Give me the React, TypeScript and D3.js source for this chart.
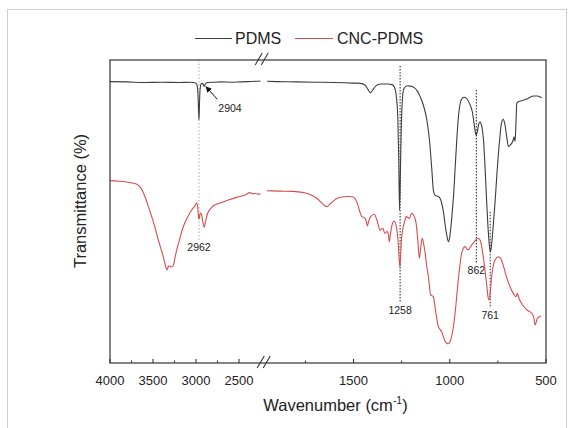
import React from "react";
import * as d3 from "d3";

// ---------- data ----------
const pdmsWn = [4000, 3800, 3600, 3400, 3200, 3070, 3010, 2990, 2978, 2970, 2965, 2960, 2953, 2940, 2925, 2912, 2904, 2895, 2880, 2800, 2700, 2600, 2488, 2400, 2300, 2250,
  1950, 1900, 1800, 1700, 1600, 1500, 1465, 1440, 1425, 1412, 1400, 1385, 1360, 1320, 1300, 1288, 1278, 1270, 1265, 1261, 1257, 1252, 1246, 1238, 1220, 1205, 1185, 1170, 1154, 1135, 1119, 1105, 1093, 1085, 1075, 1060, 1050, 1041, 1032, 1024, 1015, 1007, 1000, 993, 985, 980, 972, 963, 955, 946, 935, 925, 910, 894, 882, 873, 866, 862, 857, 850, 843, 836, 830, 825, 818, 808, 800, 793, 788, 782, 775, 765, 755, 747, 740, 733, 722, 712, 704, 695, 685, 678, 670, 666, 661, 656, 652, 640, 626, 600, 566, 545, 522];
const pdmsT = [93.8, 93.7, 93.5, 93.6, 93.5, 93.6, 93.4, 92.8, 90, 84, 81, 86, 91, 93, 93.2, 92.6, 92.2, 92.8, 93.4, 93.6, 93.7, 93.6, 93.7, 93.8, 93.9, 94,
  93.9, 93.8, 93.7, 93.6, 93.5, 93.3, 93.2, 92.6, 91.2, 90.1, 91, 92.3, 93, 93, 92.8, 92, 89, 82, 68, 51, 62, 78, 88, 91.5, 92.4, 92.3, 91.8, 90.8, 88.8, 85.5, 81, 74, 64.3, 57.5, 55.8, 55.5, 54.8, 53, 50, 46, 42.5, 40.4, 42, 46, 52, 56, 65, 75, 82, 86.5, 88.3, 88.6, 88, 86, 83.5, 79.5, 76.5, 76, 77, 79.5, 80.4, 79.5, 77.5, 74.5, 67, 53.5, 44, 38.5, 37.1, 40, 45, 53.3, 63, 70, 75, 79.3, 81.2, 79, 75.4, 72.1, 72.8, 73.2, 74.5, 75.4, 73.8, 80, 86.6, 87.2, 87.4, 88, 89, 89, 88.4];

const cncWn = [4000, 3900, 3826, 3740, 3671, 3630, 3593, 3555, 3515, 3475, 3438, 3405, 3380, 3355, 3337, 3320, 3302, 3285, 3264, 3245, 3224, 3185, 3148, 3100, 3050, 3015, 2992, 2980, 2970, 2963, 2955, 2945, 2935, 2920, 2903, 2890, 2870, 2856, 2820, 2779, 2700, 2624, 2530, 2430, 2372, 2340, 2314, 2280, 2250,
  1950, 1882, 1813, 1743, 1691, 1664, 1650, 1639, 1628, 1617, 1591, 1553, 1520, 1501, 1480, 1465, 1457, 1448, 1440, 1433, 1428, 1420, 1411, 1392, 1376, 1362, 1348, 1337, 1325, 1318, 1314, 1308, 1302, 1290, 1276, 1267, 1262, 1259, 1255, 1251, 1245, 1235, 1227, 1210, 1198, 1184, 1175, 1166, 1158, 1150, 1143, 1135, 1129, 1120, 1111, 1099, 1085, 1077, 1068, 1059, 1042, 1033, 1025, 1016, 1008, 998, 990, 981, 970, 961, 950, 938, 921, 904, 886, 869, 852, 843, 834, 825, 817, 808, 800, 795, 789, 783, 775, 765, 748, 735, 725, 708, 687, 670, 656, 649, 640, 632, 600, 574, 563, 557, 550, 545, 527];
const cncT = [60.8, 60.6, 60.4, 60, 59.3, 57.8, 55.4, 52.3, 48.8, 45, 41, 37.8, 35.4, 32.5, 31, 32.3, 32.3, 32, 32.5, 35, 37.7, 41.8, 45.4, 48.5, 51, 52.3, 53.3, 52, 48.5, 48, 49.5, 50, 49.5, 47, 45.3, 47, 49.5, 50.4, 51.8, 52.7, 53.5, 54.3, 55.2, 56, 56.8, 56.4, 56.5, 56.3, 56.3,
  57.4, 57.3, 57.2, 56.6, 54.9, 53.3, 52.4, 52.1, 52.6, 53.3, 54.7, 55.4, 55.5, 55.3, 53.2, 50, 48.8, 48.6, 48.2, 47, 45.7, 47.5, 48.8, 49.6, 47.1, 44.3, 44.9, 43.2, 43.8, 42.5, 40.4, 43, 45.4, 47.3, 44.9, 39.3, 34, 32.1, 36, 41, 44.3, 47, 48.8, 48.2, 49.9, 48.8, 46.6, 41, 34.9, 39, 41.6, 39.5, 37.1, 32.5, 28.8, 22.7, 22.1, 18.8, 15, 12.1, 10.4, 8.8, 7.3, 6.6, 6.4, 7.1, 9, 12.1, 18, 24.3, 31, 36.6, 38.8, 37.7, 39.3, 40.7, 41.6, 41, 38.8, 35, 31, 26, 21.6, 21, 24, 28.5, 32, 34.3, 35.4, 34.8, 33.2, 29.3, 25.4, 23.2, 22.1, 23.2, 21.5, 20.4, 17.7, 16.6, 15, 12.7, 13.8, 14.9, 15.7];

const seriesNames = ["PDMS", "CNC-PDMS"];
const majorTicks = [4000, 3500, 3000, 2500, 1500, 1000, 500];
const minorTicks = [3750, 3250, 2750, 1750, 1250, 750];
const breakFrom = 2250;
const breakTo = 1950;

const peakLabels = ["2962", "1258", "862", "761"];
const peakWn = [2965, 1258, 862, 790];
const peakTopT = [101, 99, 91, 50.4];
const peakBottomT = [41, 20, 33.3, 18.3];

const arrowLabel = "2904";
const arrowFrom = [2752, 87.9];
const arrowTo = [2884, 92.1];

// ---------- chart ----------
export default function App() {
  const W = 573;
  const H = 428;
  const font = "'Liberation Sans', Arial, sans-serif";
  const colors = ["#3d3d3d", "#d84c4c"];

  const x = d3.scaleLinear().domain([4000, breakFrom, breakTo, 500]).range([110, 260.5, 266.9, 546]);
  const y = d3.scaleLinear().domain([0, 101]).range([363, 60]);

  const line = d3
    .line<[number, number]>()
    .x((d) => x(d[0]))
    .y((d) => y(d[1]))
    .curve(d3.curveMonotoneX);

  const segs = (wn: number[], t: number[]) => {
    const pts: [number, number][] = wn.map((w, i) => [w, t[i]]);
    return [pts.filter((p) => p[0] >= breakFrom), pts.filter((p) => p[0] <= breakTo)];
  };
  const series = [segs(pdmsWn, pdmsT), segs(cncWn, cncT)];

  const left = x(4000);
  const right = x(500);
  const top = y(101);
  const bottom = y(0);
  const bx = (x(breakFrom) + x(breakTo)) / 2;

  const slashes = (cx: number, cy: number) =>
    [-3, 3].map((o, i) => (
      <line key={i} x1={cx + o - 3.5} y1={cy + 6} x2={cx + o + 3.5} y2={cy - 6} stroke="#333" strokeWidth={1.1} />
    ));

  return (
    <div style={{ position: "absolute", left: 0, top: 0 }}>
      <svg width={W} height={H} style={{ display: "block", background: "#fff" }} fontFamily={font}>
        <defs>
          <marker id="arr" viewBox="0 0 10 10" refX="9" refY="5" markerWidth="6" markerHeight="6" orient="auto">
            <path d="M0,0 L10,5 L0,10 z" fill="#111" />
          </marker>
        </defs>
        <rect x={7.5} y={9.5} width={559} height={440} fill="none" stroke="#cfcfcf" />

        {/* legend */}
        <g>
          <line x1={195} x2={232} y1={38.5} y2={38.5} stroke={colors[0]} strokeWidth={1.2} />
          <text x={235} y={44} fontSize={16} fill="#222">{seriesNames[0]}</text>
          <line x1={295} x2={333} y1={38.5} y2={38.5} stroke={colors[1]} strokeWidth={1.2} />
          <text x={337} y={44} fontSize={16} fill="#222">{seriesNames[1]}</text>
        </g>

        {/* peak guide lines */}
        {peakWn.map((w, i) => (
          <g key={i}>
            <line
              x1={x(w)} x2={x(w)} y1={y(peakTopT[i])} y2={y(peakBottomT[i])}
              stroke={i === 0 ? "#aaa" : "#222"} strokeWidth={1} strokeDasharray={i === 0 ? "1.5,2" : "1.5,1.5"}
            />
            <text x={x(w)} y={y(peakBottomT[i]) + 11} fontSize={10.5} textAnchor="middle" fill="#222">
              {peakLabels[i]}
            </text>
          </g>
        ))}

        {/* spectra */}
        {series.map((s, si) =>
          s.map((seg, k) => (
            <path key={si + "-" + k} d={line(seg) || ""} fill="none" stroke={colors[si]} strokeWidth={1.1} />
          ))
        )}

        {/* arrow annotation */}
        <line
          x1={x(arrowFrom[0])} y1={y(arrowFrom[1])} x2={x(arrowTo[0])} y2={y(arrowTo[1])}
          stroke="#111" strokeWidth={1} markerEnd="url(#arr)"
        />
        <text x={x(arrowFrom[0]) + 1} y={y(arrowFrom[1]) + 13} fontSize={10.5} fill="#222">{arrowLabel}</text>

        {/* frame */}
        <rect x={left} y={top} width={right - left} height={bottom - top} fill="none" stroke="#333" strokeWidth={1.2} />

        {/* ticks */}
        {majorTicks.map((t) => (
          <g key={"M" + t}>
            <line x1={x(t)} x2={x(t)} y1={bottom} y2={bottom - 4} stroke="#333" strokeWidth={1.1} />
            <text x={x(t)} y={385} fontSize={13} textAnchor="middle" fill="#222">{t}</text>
          </g>
        ))}
        {minorTicks.map((t) => (
          <line key={"m" + t} x1={x(t)} x2={x(t)} y1={bottom} y2={bottom - 2.5} stroke="#333" strokeWidth={1} />
        ))}

        {/* axis breaks */}
        {slashes(bx, bottom - 1)}
        {slashes(bx - 2, top - 1)}

        {/* axis titles */}
        <text x={335.5} y={411} fontSize={16.5} textAnchor="middle" fill="#222">
          Wavenumber (cm
          <tspan fontSize={10.5} dy={-7}>-1</tspan>
          <tspan dy={7}>)</tspan>
        </text>
        <text transform="translate(86,201) rotate(-90)" fontSize={16.5} textAnchor="middle" fill="#222">
          Transmittance (%)
        </text>
      </svg>
    </div>
  );
}
